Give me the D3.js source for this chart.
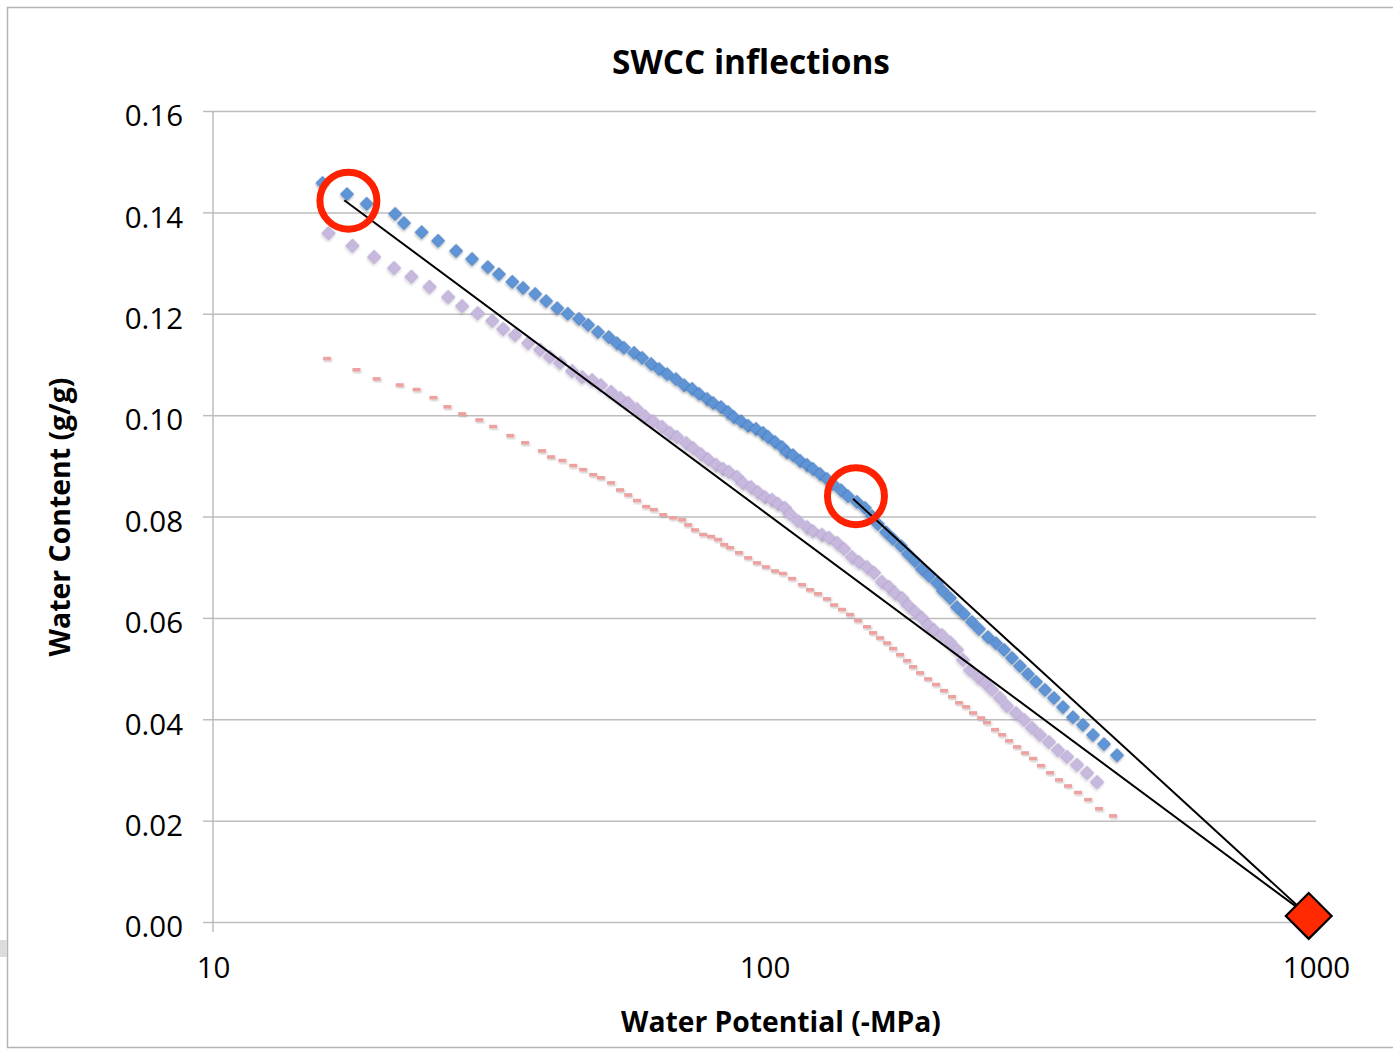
<!DOCTYPE html>
<html>
<head>
<meta charset="utf-8">
<script src="https://cdn.jsdelivr.net/npm/d3@7"></script>
<style>
  html, body { margin: 0; padding: 0; background: #ffffff; }
  svg { display: block; }
</style>
</head>
<body>
<svg id="chart" width="1393" height="1049"></svg>
<script>
// Soil water characteristic curves: water potential (-MPa) vs. gravimetric water content (g/g)
const blueSeries = [
  [15.8,0.1458],[17.5,0.1436],[19.0,0.1417],[21.4,0.1397],[22.2,0.1379],[23.9,0.1361],[25.6,0.1344],
  [27.6,0.1324],[29.5,0.1308],[31.5,0.1292],[33.0,0.1278],[34.9,0.1263],[36.5,0.1251],[38.4,0.1239],
  [40.2,0.1225],[42.1,0.1211],[44.0,0.1200],[46.1,0.1190],[47.9,0.1178],[49.9,0.1164],[52.2,0.1154],
  [54.0,0.1142],[55.6,0.1133],[58.0,0.1123],[60.0,0.1113],[62.3,0.1101],[64.4,0.1091],[66.6,0.1081],
  [69.1,0.1071],[71.5,0.1059],[73.9,0.1052],[76.1,0.1042],[78.7,0.1032],[80.7,0.1024],[83.4,0.1016],
  [85.9,0.1006],[88.0,0.0996],[90.7,0.0988],[93.4,0.0979],[96.5,0.0973],[99.4,0.0965],[101.5,0.0957],
  [104.5,0.0947],[107.6,0.0937],[109.8,0.0927],[112.6,0.0921],[116.0,0.0910],[119.4,0.0902],[122.4,0.0894],
  [126.1,0.0884],[129.8,0.0874],[133.1,0.0864],[137.6,0.0852],[141.7,0.0840],[147.1,0.0829],[152.1,0.0817],
  [156.6,0.0801],[160.6,0.0785],[166.1,0.0769],[171.0,0.0756],[176.8,0.0742],[182.1,0.0726],[187.5,0.0712],
  [193.0,0.0696],[198.8,0.0683],[205.5,0.0669],[210.7,0.0653],[217.0,0.0639],[223.4,0.0621],[230.0,0.0608],
  [237.8,0.0592],[244.9,0.0578],[254.3,0.0562],[262.9,0.0550],[271.9,0.0537],[281.1,0.0521],[290.6,0.0505],
  [300.5,0.0489],[310.7,0.0474],[322.6,0.0458],[334.9,0.0442],[347.8,0.0424],[362.6,0.0404],[378.0,0.0389],
  [394.2,0.0369],[412.7,0.0351],[435.8,0.0329]
];

const purpleSeries = [
  [16.2,0.1359],[17.9,0.1334],[19.6,0.1312],[21.3,0.1290],[22.9,0.1273],[24.7,0.1253],[26.7,0.1233],
  [28.3,0.1215],[30.2,0.1201],[32.1,0.1186],[33.6,0.1170],[35.3,0.1158],[37.3,0.1142],[39.2,0.1129],
  [40.8,0.1115],[42.6,0.1103],[44.8,0.1087],[46.7,0.1075],[48.7,0.1069],[50.5,0.1059],[52.7,0.1046],
  [54.7,0.1034],[56.6,0.1024],[58.7,0.1012],[60.7,0.0998],[62.8,0.0988],[65.2,0.0977],[67.4,0.0965],
  [69.4,0.0957],[72.1,0.0945],[74.2,0.0935],[76.7,0.0923],[79.0,0.0913],[81.7,0.0902],[84.1,0.0894],
  [86.2,0.0888],[89.2,0.0878],[91.4,0.0866],[94.5,0.0858],[97.3,0.0848],[100.2,0.0838],[103.2,0.0833],
  [105.8,0.0825],[108.9,0.0817],[111.2,0.0805],[115.0,0.0791],[119.4,0.0779],[122.4,0.0771],[127.1,0.0764],
  [130.9,0.0758],[135.4,0.0748],[139.4,0.0736],[144.1,0.0720],[148.4,0.0710],[153.4,0.0700],[158.0,0.0689],
  [163.3,0.0671],[168.2,0.0661],[172.4,0.0649],[177.6,0.0639],[182.1,0.0625],[187.5,0.0612],[193.0,0.0600],
  [197.9,0.0586],[202.9,0.0576],[209.8,0.0566],[217.0,0.0552],[223.4,0.0537],[229.1,0.0517],[235.9,0.0497],
  [243.9,0.0483],[251.1,0.0472],[258.6,0.0458],[267.3,0.0442],[275.3,0.0426],[285.8,0.0412],[295.5,0.0399],
  [305.5,0.0383],[315.9,0.0369],[328.0,0.0355],[340.6,0.0339],[353.6,0.0326],[368.7,0.0310],[384.5,0.0294],
  [400.9,0.0276]
];

const redSeries = [
  [16.1,0.1111],[18.2,0.1089],[19.8,0.1071],[21.8,0.1059],[23.4,0.1050],[25.1,0.1034],[26.6,0.1016],
  [28.3,0.1002],[30.4,0.0990],[32.2,0.0977],[34.6,0.0959],[36.8,0.0945],[39.5,0.0929],[41.0,0.0917],
  [43.0,0.0910],[45.0,0.0900],[46.9,0.0892],[48.9,0.0882],[50.5,0.0876],[52.7,0.0866],[54.7,0.0852],
  [56.6,0.0842],[58.7,0.0831],[61.0,0.0819],[63.0,0.0813],[65.5,0.0803],[68.3,0.0797],[70.9,0.0793],
  [72.7,0.0783],[74.8,0.0773],[77.4,0.0764],[80.0,0.0760],[82.4,0.0754],[84.5,0.0744],[86.6,0.0738],
  [89.9,0.0728],[93.4,0.0718],[96.9,0.0708],[100.6,0.0700],[104.5,0.0692],[108.0,0.0687],[112.2,0.0677],
  [116.9,0.0665],[120.9,0.0655],[125.0,0.0647],[129.8,0.0637],[133.7,0.0625],[138.2,0.0616],[142.9,0.0606],
  [147.8,0.0594],[153.4,0.0582],[157.3,0.0570],[162.0,0.0560],[166.8,0.0550],[171.0,0.0539],[176.1,0.0527],
  [181.3,0.0515],[185.9,0.0503],[191.4,0.0491],[197.9,0.0479],[204.6,0.0468],[211.6,0.0456],[218.8,0.0444],
  [225.3,0.0432],[232.0,0.0424],[238.8,0.0412],[247.0,0.0402],[253.2,0.0393],[261.8,0.0379],[269.6,0.0369],
  [277.6,0.0357],[287.0,0.0345],[296.8,0.0333],[306.8,0.0322],[317.2,0.0308],[329.4,0.0294],[342.0,0.0280],
  [355.1,0.0268],[370.3,0.0255],[386.1,0.0241],[404.2,0.0223],[428.5,0.0209]
];

// Inflection points picked on the blue curve and the dry end-point they are projected to
const inflections = [[17.6,0.1423],[146.5,0.0840]];
const lineStarts = [[17.3,0.1424],[144.7,0.0835]];
const endPoint = [970,0.0012];

const yTicks = [0,0.02,0.04,0.06,0.08,0.10,0.12,0.14,0.16];
const xTicks = [10,100,1000];

const titleText = "SWCC inflections";
const xTitle = "Water Potential (-MPa)";
const yTitle = "Water Content (g/g)";

const svg = d3.select("#chart");
const FONT = "'Open Sans', 'DejaVu Sans', sans-serif";

const plot = {left: 213, right: 1316, top: 111, bottom: 922};
const x = d3.scaleLog().domain([10, 1000]).range([plot.left, plot.right]);
const y = d3.scaleLinear().domain([0, 0.16]).range([plot.bottom, plot.top]);

// drop shadows used by the series markers
const defs = svg.append("defs");
const shadow = defs.append("filter").attr("id", "mshadow")
  .attr("x", "-50%").attr("y", "-50%").attr("width", "200%").attr("height", "200%");
shadow.append("feDropShadow").attr("dx", 1).attr("dy", 1.5).attr("stdDeviation", 1)
  .attr("flood-color", "#000").attr("flood-opacity", 0.3);
const soft = defs.append("filter").attr("id", "soft")
  .attr("x", "-50%").attr("y", "-50%").attr("width", "200%").attr("height", "200%");
soft.append("feGaussianBlur").attr("in", "SourceGraphic").attr("stdDeviation", 0.6).attr("result", "b");
soft.append("feDropShadow").attr("in", "b").attr("dx", 1).attr("dy", 1.5).attr("stdDeviation", 1)
  .attr("flood-color", "#000").attr("flood-opacity", 0.2);

// chart frame
svg.append("rect").attr("x", 7.5).attr("y", 7.5).attr("width", 1420).attr("height", 1040)
  .attr("fill", "#fff").attr("stroke", "#b3b3b3").attr("stroke-width", 1.5);
svg.append("rect").attr("x", 0).attr("y", 940).attr("width", 7).attr("height", 17).attr("fill", "#dcdcdc");

// horizontal gridlines
svg.append("g")
  .attr("transform", `translate(${plot.left},0)`)
  .call(d3.axisLeft(y).tickValues(yTicks).tickSize(-(plot.right - plot.left)).tickFormat(""))
  .call(g => g.select(".domain").remove())
  .call(g => g.selectAll("line").attr("stroke", "#bdbdbd").attr("stroke-width", 1.5));

// value axis with tick marks and labels
svg.append("g")
  .attr("transform", `translate(${plot.left},0)`)
  .call(d3.axisLeft(y).tickValues(yTicks).tickSize(10).tickPadding(20).tickFormat(d3.format(".2f")))
  .call(g => g.select(".domain").remove())
  .call(g => g.selectAll("line").attr("stroke", "#bdbdbd").attr("stroke-width", 1.5))
  .call(g => g.selectAll("text").attr("font-family", FONT).attr("font-size", 29.5).attr("fill", "#000")
    .attr("dy", "0.5em"));
svg.append("line").attr("x1", plot.left).attr("x2", plot.left)
  .attr("y1", plot.top).attr("y2", plot.bottom + 10)
  .attr("stroke", "#bdbdbd").attr("stroke-width", 1.5);

// potential axis labels
svg.append("g")
  .attr("transform", `translate(0,${plot.bottom})`)
  .call(d3.axisBottom(x).tickValues(xTicks).tickSize(0).tickPadding(35).tickFormat(d3.format("d")))
  .call(g => g.select(".domain").remove())
  .call(g => g.selectAll("text").attr("font-family", FONT).attr("font-size", 29.5).attr("fill", "#000"));

// series markers
const sq = d3.symbol(d3.symbolSquare);
svg.append("g").selectAll("rect").data(redSeries).join("rect")
  .attr("x", d => x(d[0]) - 4).attr("y", d => y(d[1]) - 2)
  .attr("width", 8).attr("height", 3.6)
  .attr("fill", "#eda2a2").attr("filter", "url(#soft)");

svg.append("g").selectAll("path").data(purpleSeries).join("path")
  .attr("d", sq.size(92)())
  .attr("transform", d => `translate(${x(d[0])},${y(d[1])}) rotate(45)`)
  .attr("fill", "#c7b8dd").attr("stroke", "#b8a6d2").attr("stroke-width", 0.8)
  .attr("filter", "url(#soft)");

svg.append("g").selectAll("path").data(blueSeries).join("path")
  .attr("d", sq.size(86)())
  .attr("transform", d => `translate(${x(d[0])},${y(d[1])}) rotate(45)`)
  .attr("fill", "#5f94d6").attr("stroke", "#4a7fc2").attr("stroke-width", 0.8)
  .attr("filter", "url(#mshadow)");

// projection lines from each inflection to the dry end-point
svg.append("g").selectAll("line").data(lineStarts).join("line")
  .attr("x1", d => x(d[0])).attr("y1", d => y(d[1]))
  .attr("x2", x(endPoint[0])).attr("y2", y(endPoint[1]))
  .attr("stroke", "#000").attr("stroke-width", 2);

// inflection rings
svg.append("g").selectAll("circle").data(inflections).join("circle")
  .attr("cx", d => x(d[0])).attr("cy", d => y(d[1])).attr("r", 28.5)
  .attr("fill", "none").attr("stroke", "#ff2200").attr("stroke-width", 7);

// dry end-point marker
svg.append("path")
  .attr("d", sq.size(1050)())
  .attr("transform", `translate(${x(endPoint[0])},${y(endPoint[1])}) rotate(45)`)
  .attr("fill", "#ff2a00").attr("stroke", "#000").attr("stroke-width", 2.2);

// fit a text element to a given width by adjusting its font size
function fitWidth(sel, width) {
  const node = sel.node();
  const w = node.getComputedTextLength();
  const fs = parseFloat(sel.attr("font-size"));
  sel.attr("font-size", (fs * width / w).toFixed(2));
}

const title = svg.append("text")
  .attr("x", 751).attr("y", 74).attr("text-anchor", "middle")
  .attr("font-family", FONT).attr("font-weight", "bold").attr("font-size", 30)
  .text(titleText);
fitWidth(title, 278);

const xt = svg.append("text")
  .attr("x", 781).attr("y", 1032).attr("text-anchor", "middle")
  .attr("font-family", FONT).attr("font-weight", "bold").attr("font-size", 26)
  .text(xTitle);
fitWidth(xt, 320);

const yt = svg.append("text")
  .attr("transform", "translate(70,517) rotate(-90)").attr("text-anchor", "middle")
  .attr("font-family", FONT).attr("font-weight", "bold").attr("font-size", 26)
  .text(yTitle);
fitWidth(yt, 279);
</script>
</body>
</html>
